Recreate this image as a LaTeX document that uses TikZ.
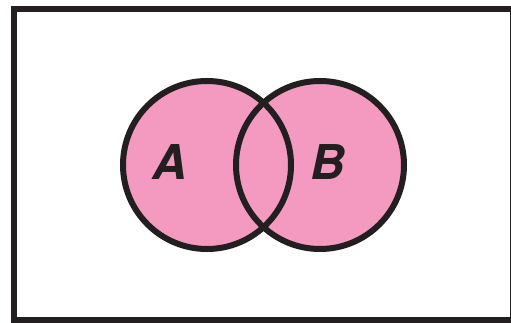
\documentclass[tikz,border=0pt]{standalone}
\usepackage{fontspec}
\setsansfont{TeX Gyre Heros}
\usetikzlibrary{positioning}
\definecolor{setpink}{HTML}{F49AC1}
\definecolor{inkdark}{HTML}{231F20}

\begin{document}
\begin{tikzpicture}[x=1pt,y=1pt, every node/.style={font=\sffamily\bfseries\itshape\fontsize{48}{48}\selectfont,text=inkdark},
  setfill/.style={circle,fill=setpink,draw=none,inner sep=0pt,minimum size=168pt},
  ring/.style={draw=inkdark,line width=6pt},
  frame/.style={draw=inkdark,line width=6pt}]
\useasboundingbox (0,0) rectangle (511,322);
\node[frame,minimum width=499pt,minimum height=310pt,inner sep=0pt] (universe) at (263.5,157.5) {};
\node[setfill] (setA) at (207,157) {};
\node[setfill] (setB) at (320,157) {};
\draw[ring] (setA.center) circle[radius=84pt];
\draw[ring] (setB.center) circle[radius=84pt];
\node[inner sep=0pt] (labA) at (170,160) {A};
\node[inner sep=0pt] (labB) at (328,160) {B};
\end{tikzpicture}
\end{document}
